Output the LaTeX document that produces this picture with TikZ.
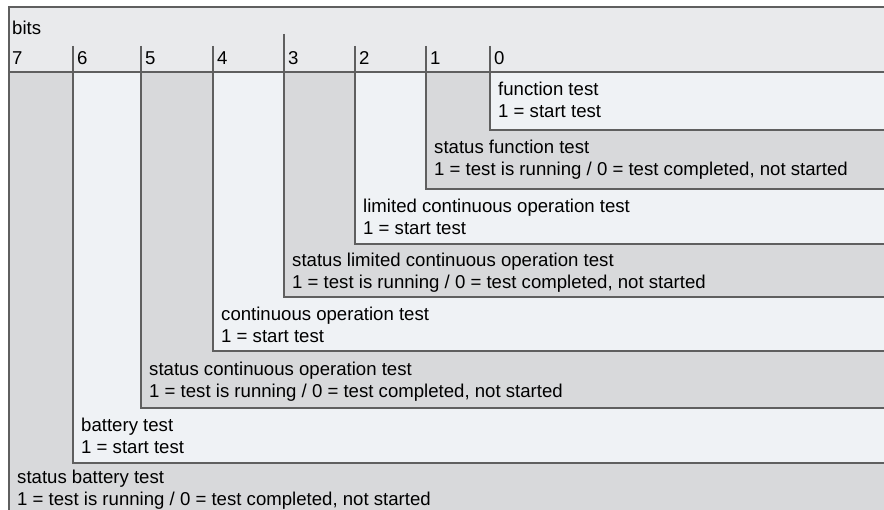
\documentclass[tikz,border=0pt]{standalone}
\usepackage{fontspec}
\setmainfont{Liberation Sans}
\usetikzlibrary{positioning}
\definecolor{frameline}{RGB}{95,95,95}
\definecolor{headfill}{RGB}{233,234,236}
\definecolor{lightfill}{RGB}{239,242,245}
\definecolor{darkfill}{RGB}{216,217,219}

\begin{document}
\begin{tikzpicture}[x=1pt, y=-1pt,
    field/.style={draw=frameline, line width=2.2pt},
    desc/.style={anchor=base west, align=left, inner sep=0pt, font=\fontsize{18.6}{22}\selectfont},
    bitnum/.style={anchor=base west, inner sep=0pt, font=\fontsize{18.6}{22}\selectfont}
]
    \useasboundingbox (0,0) rectangle (884,510);
    \clip (0,0) rectangle (884,510);

    % header with bit numbers
    \fill[headfill] (9,7) rectangle (900,72);
    \node[bitnum] (bits) at (12,35) {bits};
    \node[bitnum] (n7) at (12,65) {7};
    \foreach \x/\n in {73/6, 141/5, 213/4, 355/2, 426/1, 490/0} {
        \draw[field] (\x,46) -- (\x,72);
        \node[bitnum] (n\n) at (\x+4,65) {\n};
    }
    \draw[field] (284,34) -- (284,72);
    \node[bitnum] (n3) at (288,65) {3};

    % nested fields, widest first
    \foreach \b/\l/\bot/\f in {7/9/530/darkfill, 6/73/463/lightfill, 5/141/408/darkfill,
        4/213/351/lightfill, 3/284/297/darkfill, 2/355/244/lightfill,
        1/426/189/darkfill, 0/490/130/lightfill}
        \filldraw[field, fill=\f] (\l,72) rectangle (900,\bot);
    \draw[field] (900,7) -- (9,7) -- (9,520);
    \draw[field] (9,72) -- (900,72);

    % descriptions (anchored at the baseline of the second line)
    \node[desc] (t0) at (498,118) {function test\\1 = start test};
    \node[desc] (t1) at (434,176) {status function test\\1 = test is running / 0 = test completed, not started};
    \node[desc] (t2) at (363,235) {limited continuous operation test\\1 = start test};
    \node[desc] (t3) at (292,289) {status limited continuous operation test\\1 = test is running / 0 = test completed, not started};
    \node[desc] (t4) at (221,343) {continuous operation test\\1 = start test};
    \node[desc] (t5) at (149,398) {status continuous operation test\\1 = test is running / 0 = test completed, not started};
    \node[desc] (t6) at (81,454) {battery test\\1 = start test};
    \node[desc] (t7) at (17,505) {status battery test\\1 = test is running / 0 = test completed, not started};
\end{tikzpicture}
\end{document}
